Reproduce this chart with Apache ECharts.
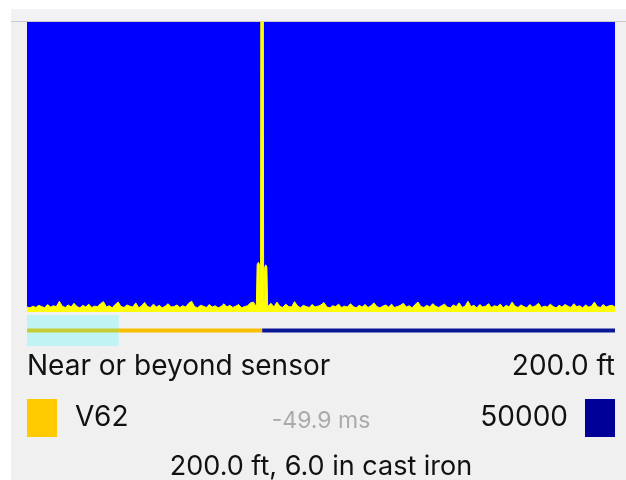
<!DOCTYPE html>
<html>
<head>
<meta charset="utf-8">
<script src="https://cdn.jsdelivr.net/npm/echarts@6/dist/echarts.min.js"></script>
<style>
  html, body { margin: 0; padding: 0; background: #ffffff; }
  #main { width: 626px; height: 480px; }
</style>
</head>
<body>
<div id="main"></div>
<script>
// trace: amplitude every 2.5 ft from 0 to 500 ft
const stepFt = 2.5;
const noise = [
  1.2,1.0,1.4,1.1,1.6,1.3,1.0,1.8,1.2,1.5,1.3,2.6,1.4,1.1,1.7,1.2,2.1,1.3,1.0,1.6,
  1.2,1.9,1.1,1.4,1.3,2.0,2.5,1.2,1.5,1.0,1.8,2.4,1.3,1.1,1.7,1.4,1.2,2.2,1.0,1.5,
  2.3,1.3,1.1,1.9,1.2,1.6,1.0,1.4,2.0,1.2,1.3,1.7,1.1,1.5,1.2,2.1,2.6,1.3,1.0,1.6,
  1.4,1.1,1.8,1.2,1.5,1.0,1.3,2.0,1.2,1.6,1.1,1.4,1.8,1.0,1.3,1.5,2.2,2.4,1.2,1.0,
  1.0,1.1,1.3,2.1,1.2,2.4,1.4,1.1,1.9,1.3,1.2,2.5,1.5,1.0,1.6,1.3,1.1,1.8,1.2,1.4,
  1.7,2.3,1.2,1.0,1.5,1.3,1.9,1.1,1.4,1.2,2.0,1.3,1.0,1.6,1.2,1.8,1.1,1.5,2.2,1.3,
  1.0,1.4,1.7,1.2,1.9,1.1,1.3,1.6,2.1,1.2,1.5,1.0,1.8,2.4,1.3,1.1,1.6,1.2,2.0,1.4,
  1.1,1.5,1.9,1.2,1.0,1.7,1.3,2.2,1.1,1.4,2.6,1.3,1.6,1.0,1.8,1.2,1.4,2.0,1.1,1.5,
  1.3,1.9,1.0,1.6,1.2,2.4,1.4,1.1,1.7,1.3,1.0,1.8,1.2,1.5,2.1,1.1,1.4,1.2,1.9,1.3,
  1.0,1.6,1.2,1.8,1.4,1.1,2.0,1.3,1.5,1.0,1.7,1.2,1.4,2.4,1.3,1.1,1.8,1.2,1.5,1.6,1.2
];
// echo around the leak position (finer sampling)
const echoFt  = [195.2, 195.7, 196.7, 197.8, 198.3, 198.6, 198.9, 200.9, 201.2, 201.6, 202.1, 203.0, 204.0, 204.6];
const echoAmp = [1.2,   11.4,  12,    11.4,  2.5,   3,     100,   100,   3,     2.5,   10.8,  11.4,  10.8,  1.3];

const rangeFt = [0, 500];
const ampMax = 70;
const leakFt = 200;
const nearZoneFt = 78;

const leftText = "Near or beyond sensor";
const rightText = "200.0 ft";
const legendLeft = "V62";
const legendMid = "-49.9 ms";
const legendRight = "50000";
const footer = "200.0 ft, 6.0 in cast iron";

const trace = [];
noise.forEach((v, i) => {
  const d = i * stepFt;
  if (d < echoFt[0] || d > echoFt[echoFt.length - 1]) trace.push([d, v]);
});
echoFt.forEach((d, i) => trace.push([d, echoAmp[i]]));
trace.sort((a, b) => a[0] - b[0]);

const font = "Inter, 'Noto Sans', sans-serif";
const hidden = { show: false };

function label(x, y, text, size, color, align) {
  return {
    type: "text", x: x, y: y, z: 10,
    style: { text: text, font: size + "px " + font, fill: color, align: align, verticalAlign: "middle" }
  };
}

const options = {
  backgroundColor: "#f0f0f0",
  animation: false,
  grid: [
    { left: 27, right: 11, top: 22, height: 290, show: true, backgroundColor: "#0000ff", borderWidth: 0 },
    { left: 27, right: 11, top: 315, height: 31 }
  ],
  xAxis: [
    { type: "value", gridIndex: 0, min: rangeFt[0], max: rangeFt[1], axisLine: hidden, axisTick: hidden, axisLabel: hidden, splitLine: hidden },
    { type: "value", gridIndex: 1, min: rangeFt[0], max: rangeFt[1], axisLine: hidden, axisTick: hidden, axisLabel: hidden, splitLine: hidden }
  ],
  yAxis: [
    { type: "value", gridIndex: 0, min: 0, max: ampMax, axisLine: hidden, axisTick: hidden, axisLabel: hidden, splitLine: hidden },
    { type: "value", gridIndex: 1, min: 0, max: 1, axisLine: hidden, axisTick: hidden, axisLabel: hidden, splitLine: hidden }
  ],
  series: [
    {
      type: "line", xAxisIndex: 0, yAxisIndex: 0, data: trace,
      showSymbol: false, silent: true, clip: true,
      lineStyle: { color: "#ffff00", width: 1 },
      areaStyle: { color: "#ffff00", opacity: 1 }
    },
    {
      type: "line", xAxisIndex: 1, yAxisIndex: 1, data: [[rangeFt[0], 0.5], [leakFt, 0.5]],
      showSymbol: false, silent: true, lineStyle: { color: "#f8c000", width: 4 }
    },
    {
      type: "line", xAxisIndex: 1, yAxisIndex: 1, data: [[leakFt, 0.5], [rangeFt[1], 0.5]],
      showSymbol: false, silent: true, lineStyle: { color: "#0a1896", width: 4 }
    },
    {
      type: "line", xAxisIndex: 1, yAxisIndex: 1, z: 5, data: [[rangeFt[0], 1], [nearZoneFt, 1]],
      showSymbol: false, silent: true, lineStyle: { width: 0 },
      areaStyle: { color: "rgba(0,255,255,0.2)", opacity: 1 }
    }
  ],
  graphic: [
    { type: "rect", left: 0, top: 0, shape: { width: 626, height: 9 }, style: { fill: "#ffffff" }, z: 0 },
    { type: "rect", left: 0, top: 0, shape: { width: 11, height: 480 }, style: { fill: "#ffffff" }, z: 0 },
    { type: "rect", left: 11, top: 9, shape: { width: 615, height: 13 }, style: { fill: "#f2f2f6" }, z: 0 },
    { type: "rect", left: 11, top: 21, shape: { width: 615, height: 1 }, style: { fill: "#c8c8c8" }, z: 0 },
    label(27, 367, leftText, 28, "#111111", "left"),
    label(615, 367, rightText, 28, "#111111", "right"),
    { type: "rect", left: 27, top: 399, shape: { width: 30, height: 38 }, style: { fill: "#ffcb00" } },
    label(75, 418, legendLeft, 28, "#111111", "left"),
    label(321, 421, legendMid, 23, "#aaaaaa", "center"),
    label(568, 418, legendRight, 28, "#111111", "right"),
    { type: "rect", left: 585, top: 399, shape: { width: 30, height: 38 }, style: { fill: "#000099" } },
    label(321, 467, footer, 27, "#111111", "center")
  ]
};

var myChart = echarts.init(document.getElementById("main"));
myChart.setOption(options);
window.onresize = function() {
  myChart.resize();
};
</script>
</body>
</html>
